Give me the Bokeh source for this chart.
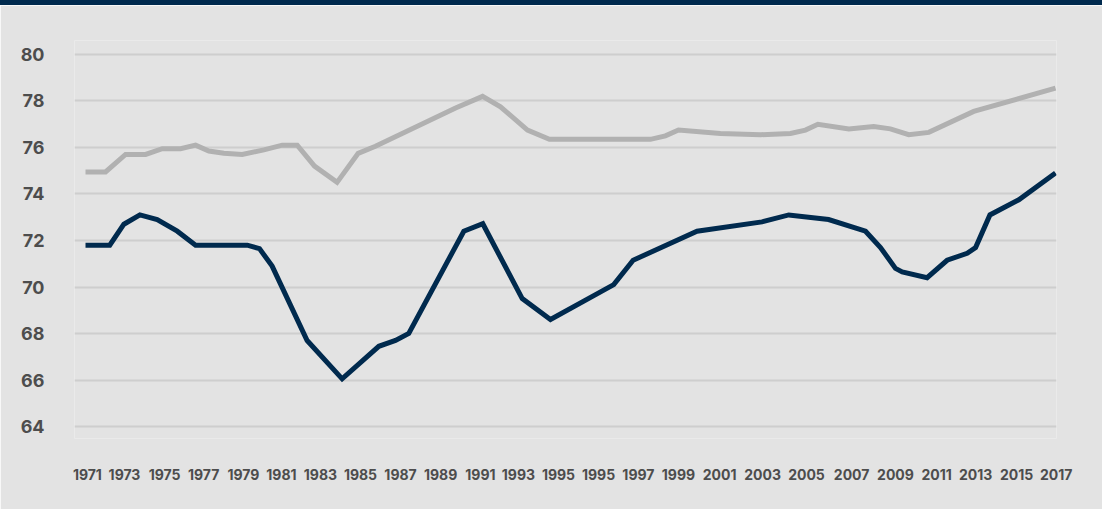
from bokeh.plotting import figure
from bokeh.models import Range1d, FixedTicker, Div, Column
from bokeh.embed import file_html
from bokeh.resources import INLINE

# ---- data ----
# x positions are in "year" units along the axis
dark_x = [1971.00, 1972.15, 1972.82, 1973.58, 1974.40, 1975.35, 1976.22, 1978.67,
          1979.25, 1979.85, 1981.51, 1983.17, 1984.91, 1985.70, 1986.33, 1988.94,
          1989.84, 1991.71, 1993.05, 1996.05, 1996.97, 2000.00, 2003.08, 2004.35,
          2006.24, 2007.99, 2008.70, 2009.41, 2009.73, 2010.91, 2011.86, 2012.81,
          2013.21, 2013.89, 2015.26, 2017.00]
dark_y = [71.8, 71.8, 72.7, 73.1, 72.9, 72.4, 71.8, 71.8,
          71.65, 70.9, 67.7, 66.05, 67.45, 67.7, 68.0, 72.4,
          72.72, 69.5, 68.6, 70.1, 71.15, 72.4, 72.8, 73.1,
          72.9, 72.4, 71.7, 70.8, 70.65, 70.4, 71.15, 71.45,
          71.7, 73.1, 73.75, 74.9]

light_x = [1971.00, 1971.95, 1972.90, 1973.85, 1974.64, 1975.51, 1976.22, 1976.85,
           1977.56, 1978.43, 1979.46, 1980.33, 1981.04, 1981.86, 1982.93, 1983.93,
           1984.75, 1988.55, 1989.83, 1990.68, 1991.96, 1993.00, 1997.79, 1998.50,
           1999.12, 2001.11, 2003.01, 2004.43, 2005.14, 2005.73, 2007.20, 2008.38,
           2009.17, 2010.04, 2010.99, 2013.12, 2017.00]
light_y = [74.95, 74.95, 75.7, 75.7, 75.95, 75.95, 76.1, 75.85,
           75.75, 75.7, 75.9, 76.1, 76.1, 75.2, 74.5, 75.75,
           76.05, 77.7, 78.2, 77.75, 76.75, 76.35, 76.35, 76.5,
           76.75, 76.6, 76.55, 76.6, 76.75, 77.0, 76.8, 76.9,
           76.8, 76.55, 76.65, 77.55, 78.55]

x_tick_labels = ["1971", "1973", "1975", "1977", "1979", "1981", "1983", "1985",
                 "1987", "1989", "1991", "1993", "1995", "1995", "1997", "1999",
                 "2001", "2003", "2005", "2007", "2009", "2011", "2013", "2015",
                 "2017"]
x_tick_pos = [1971.09, 1972.85, 1974.75, 1976.60, 1978.49, 1980.29, 1982.14, 1984.04,
              1985.94, 1987.84, 1989.73, 1991.53, 1993.43, 1995.33, 1997.22, 1999.12,
              2001.07, 2003.11, 2005.19, 2007.33, 2009.41, 2011.36, 2013.21, 2015.15,
              2017.03]
y_ticks = [64, 66, 68, 70, 72, 74, 76, 78, 80]

# ---- styling ----
BG = "#e3e3e3"
NAVY = "#002a4e"
LIGHT = "#b1b1b1"
GRID = "#cecece"
TXT = "#4d4d4d"
FONT = "Inter"

p = figure(width=1102, height=504, output_backend="svg", toolbar_location=None,
           x_range=Range1d(1970.478, 2017.047), y_range=Range1d(63.484, 80.602),
           min_border_left=74, min_border_right=46, min_border_top=35,
           min_border_bottom=71)
p.background_fill_color = BG
p.border_fill_color = BG
p.outline_line_color = None

p.xgrid.grid_line_color = None
p.ygrid.grid_line_color = GRID
p.ygrid.grid_line_width = 2

p.yaxis.ticker = FixedTicker(ticks=y_ticks)
p.xaxis.ticker = FixedTicker(ticks=x_tick_pos)
p.xaxis.major_label_overrides = {pos: lab for pos, lab in zip(x_tick_pos, x_tick_labels)}

for ax in (p.xaxis, p.yaxis):
    ax.axis_line_color = None
    ax.major_tick_line_color = None
    ax.minor_tick_line_color = None
    ax.major_tick_out = 0
    ax.major_tick_in = 0
    ax.major_label_text_color = TXT
    ax.major_label_text_font = FONT
    ax.major_label_text_font_style = "bold"

p.yaxis.major_label_text_font_size = "18px"
p.yaxis.major_label_standoff = 30
p.xaxis.major_label_text_font_size = "14px"
p.xaxis.major_label_standoff = 30

p.line(light_x, light_y, line_color=LIGHT, line_width=5, line_join="miter")
p.line(dark_x, dark_y, line_color=NAVY, line_width=5, line_join="miter")

bar = Div(text="", width=1102, height=5, margin=0,
          styles={"background-color": NAVY})
layout = Column(bar, p, spacing=0)

open("out.html", "w").write(file_html(layout, INLINE))
